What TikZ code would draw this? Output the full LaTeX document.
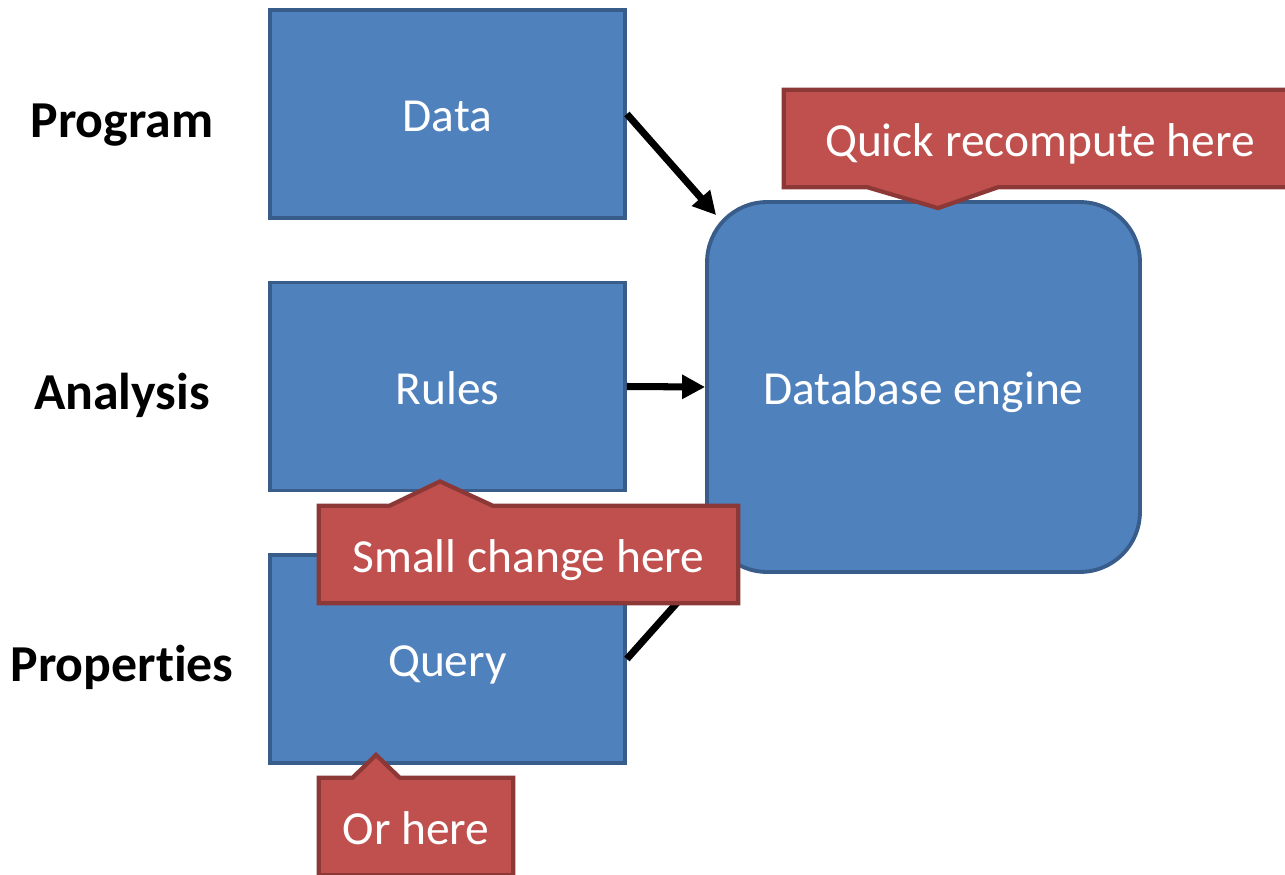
\documentclass[tikz,border=0pt]{standalone}
\usepackage{fontspec}
\setmainfont{Carlito}[Ligatures=NoCommon]
\usepackage{tikz}
\usetikzlibrary{calc,arrows.meta,positioning}
\definecolor{boxfill}{HTML}{4F81BD}
\definecolor{boxline}{HTML}{385D8A}
\definecolor{calloutfill}{HTML}{C0504D}
\definecolor{calloutline}{HTML}{8C3836}

\begin{document}
\begin{tikzpicture}[x=0.02cm, y=-0.02cm,
            every node/.style = {font=\fontsize{27}{32}\selectfont, text height=24pt, text depth=4pt},
            box/.style = {draw=boxline, fill=boxfill, line width=2.2pt, text=white,
                          minimum width=7.1cm, minimum height=4.16cm},
            enginebox/.style = {box, minimum width=8.66cm, minimum height=7.4cm, rounded corners=1.2cm},
            stage/.style = {font=\fontsize{29.5}{34}\selectfont\bfseries},
            link/.style = {line width=4pt, -{Triangle[length=0.46cm,width=0.46cm]}},
            callout/.style = {draw=calloutline, fill=calloutfill, line width=2.4pt},
            spot/.style = {minimum height=1.94cm, inner sep=0pt},
            note/.style = {text=white}
            ]
            \useasboundingbox (0,0) rectangle (1285,875);
            \clip (0,0) rectangle (1285,875);
            \node[stage] (program) at (122,120) {Program};
            \node[stage] (analysis) at (122,392) {Analysis};
            \node[stage] (properties) at (122,664) {Properties};
            \node[box] (data) at (447.5,114) {Data};
            \node[box] (rules) at (447.5,386.5) {Rules};
            \node[box] (query) at (447.5,659) {Query};
            \node[enginebox] (engine) at (923.5,387) {Database engine};
            \draw[link] (data.east) -- ($(engine.north west)+(11,15)$);
            \draw[link] (rules.east) -- (engine.west);
            \draw[link] (query.east) -- ($(engine.south west)+(11,-15)$);
            \path node[spot, minimum width=10.24cm] (quickspot) at (1040,138.5) {};
            \draw[callout] (quickspot.north west) -- (quickspot.north east) -- (quickspot.south east)
                -- ($(quickspot.south west)+(214,0)$) -- ($(engine.north)+(14.5,8)$)
                -- ($(quickspot.south west)+(84,0)$) -- (quickspot.south west) -- cycle;
            \node[note] (quick) at (quickspot) {Quick recompute here};
            \path node[spot, minimum width=8.38cm] (smallspot) at (528.5,554.5) {};
            \draw[callout] (smallspot.south west) -- (smallspot.south east) -- (smallspot.north east)
                -- ($(smallspot.north west)+(174,0)$) -- ($(rules.south)+(-7.5,-11)$)
                -- ($(smallspot.north west)+(71,0)$) -- (smallspot.north west) -- cycle;
            \node[note] (small) at (smallspot) {Small change here};
            \path node[spot, minimum width=3.88cm] (orspot) at (416,826.5) {};
            \draw[callout] (orspot.south west) -- (orspot.south east) -- (orspot.north east)
                -- ($(orspot.north west)+(81,0)$) -- ($(query.south)+(-71.5,-10)$)
                -- ($(orspot.north west)+(34,0)$) -- (orspot.north west) -- cycle;
            \node[note] (orhere) at (orspot) {Or here};
\end{tikzpicture}
\end{document}
